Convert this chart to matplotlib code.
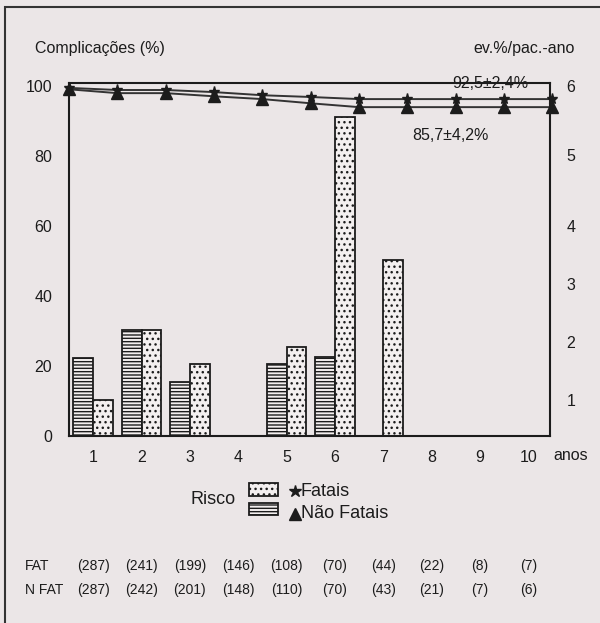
import matplotlib
matplotlib.use('Agg')
import matplotlib.pyplot as plt
from matplotlib.patches import Rectangle
from matplotlib.lines import Line2D
from matplotlib.transforms import blended_transform_factory

plt.rcParams['font.family'] = ['Liberation Sans', 'DejaVu Sans']
plt.rcParams['hatch.linewidth'] = 1.0

# ---------------- data ----------------
years = [1, 2, 3, 4, 5, 6, 7, 8, 9, 10]
year_labels = ['1', '2', '3', '4', '5', '6', '7', '8', '9', '10']
risk_nao_fatais = [22.2, 30.3, 15.5, 0, 20.5, 22.7, 0, 0, 0, 0]
risk_fatais = [10.3, 30.3, 20.5, 0, 25.5, 91.1, 50.3, 0, 0, 0]

curve_t = [0, 1, 2, 3, 4, 5, 6, 7, 8, 9, 10]
curve_fatais = [99.5, 98.9, 98.9, 98.3, 97.4, 96.9, 96.3, 96.3, 96.3, 96.3, 96.3]
curve_nao_fatais = [99.1, 98.0, 98.0, 97.1, 96.3, 95.1, 94.0, 94.0, 94.0, 94.0, 94.0]

n_fat = ['(287)', '(241)', '(199)', '(146)', '(108)', '(70)', '(44)', '(22)', '(8)', '(7)']
n_nfat = ['(287)', '(242)', '(201)', '(148)', '(110)', '(70)', '(43)', '(21)', '(7)', '(6)']

left_ticks = [0, 20, 40, 60, 80, 100]
right_labels = ['1', '2', '3', '4', '5', '6']
right_ticks = [10.3, 26.9, 43.4, 60.0, 80.3, 100.0]

label_fatais_end = '92,5±2,4%'
label_nfatais_end = '85,7±4,2%'

# ---------------- style ----------------
BG = '#ebe6e7'
BAR_BG = '#f3efef'
INK = '#1c1c1c'

fig = plt.figure(figsize=(6.0, 6.23), dpi=100, facecolor=BG)
ax = fig.add_axes([69 / 600, 1 - 436 / 623, (550 - 69) / 600, (436 - 83) / 623])
ax.set_facecolor(BG)

w = 0.41
for y, a, b in zip(years, risk_nao_fatais, risk_fatais):
    c = y - 0.5
    if a > 0:
        ax.bar(c - w, a, width=w, align='edge', facecolor=BAR_BG,
               edgecolor=INK, hatch='-----', linewidth=1.3, zorder=2)
    if b > 0:
        ax.bar(c, b, width=w, align='edge', facecolor=BAR_BG,
               edgecolor=INK, hatch='...', linewidth=1.3, zorder=2)

ax.plot(curve_t, curve_fatais, color='#333333', lw=1.4, marker='*',
        ms=8, mfc=INK, mec=INK, clip_on=False, zorder=4)
ax.plot(curve_t, curve_nao_fatais, color='#333333', lw=1.4, marker='^',
        ms=8, mfc=INK, mec=INK, clip_on=False, zorder=5)

ax.text(8.72, 98.6, label_fatais_end, ha='center', va='bottom',
        fontsize=11.5, color=INK, zorder=6)
ax.text(7.9, 86.0, label_nfatais_end, ha='center', va='center',
        fontsize=11.5, color=INK, zorder=6)

ax.set_xlim(0, 9.95)
ax.set_ylim(0, 100.9)
ax.set_xticks([y - 0.5 for y in years])
ax.set_xticklabels(year_labels, fontsize=11.5, color=INK)
ax.set_yticks(left_ticks)
ax.set_yticklabels([str(v) for v in left_ticks], fontsize=11.5, color=INK)
ax.tick_params(axis='both', length=0)
ax.tick_params(axis='y', pad=12)
ax.tick_params(axis='x', pad=10)
for s in ax.spines.values():
    s.set_linewidth(1.5)
    s.set_color(INK)

ax2 = ax.twinx()
ax2.set_ylim(ax.get_ylim())
ax2.set_yticks(right_ticks)
ax2.set_yticklabels(right_labels, fontsize=11.5, color=INK)
ax2.tick_params(axis='y', length=0, pad=12)
for s in ax2.spines.values():
    s.set_visible(False)

fig.text(35 / 600, 1 - 49 / 623, 'Complicações (%)', fontsize=11.5,
         color=INK, ha='left', va='center')
fig.text(575 / 600, 1 - 49 / 623, 'ev.%/pac.-ano', fontsize=11.5,
         color=INK, ha='right', va='center')
fig.text(553 / 600, 1 - 455 / 623, 'anos', fontsize=11.5, color=INK,
         ha='left', va='center')

# legend
LFS = 13
fig.text(236 / 600, 1 - 499 / 623, 'Risco', fontsize=LFS, color=INK,
         ha='right', va='center')
fig.add_artist(Rectangle((249 / 600, 1 - 496 / 623), 29 / 600, 13 / 623,
                         transform=fig.transFigure, facecolor=BAR_BG,
                         edgecolor=INK, hatch='...', lw=1.3))
fig.add_artist(Rectangle((249 / 600, 1 - 515 / 623), 29 / 600, 12 / 623,
                         transform=fig.transFigure, facecolor=BAR_BG,
                         edgecolor=INK, hatch='-----', lw=1.3))
fig.add_artist(Line2D([295 / 600], [1 - 491 / 623], marker='*', ms=9,
                      color=INK, transform=fig.transFigure))
fig.add_artist(Line2D([295 / 600], [1 - 514 / 623], marker='^', ms=8,
                      color=INK, transform=fig.transFigure))
fig.text(301 / 600, 1 - 491 / 623, 'Fatais', fontsize=LFS, color=INK,
         ha='left', va='center')
fig.text(301 / 600, 1 - 514 / 623, 'Não Fatais', fontsize=LFS, color=INK,
         ha='left', va='center')

# patient counts
tr = blended_transform_factory(ax.transData, fig.transFigure)
CFS = 10
fig.text(25 / 600, 1 - 566 / 623, 'FAT', fontsize=CFS, color=INK,
         ha='left', va='center')
fig.text(25 / 600, 1 - 590 / 623, 'N FAT', fontsize=CFS, color=INK,
         ha='left', va='center')
for y, a, b in zip(years, n_fat, n_nfat):
    ax.text(y - 0.5, 1 - 566 / 623, a, transform=tr, fontsize=CFS,
            color=INK, ha='center', va='center', clip_on=False)
    ax.text(y - 0.5, 1 - 590 / 623, b, transform=tr, fontsize=CFS,
            color=INK, ha='center', va='center', clip_on=False)

# outer frame
fig.add_artist(Rectangle((5 / 600, -0.1), 1.5, 1 - 7 / 623 + 0.1,
                         transform=fig.transFigure, fill=False,
                         edgecolor='#333333', lw=1.5))

fig.savefig('out.png', dpi=100, facecolor=BG)
